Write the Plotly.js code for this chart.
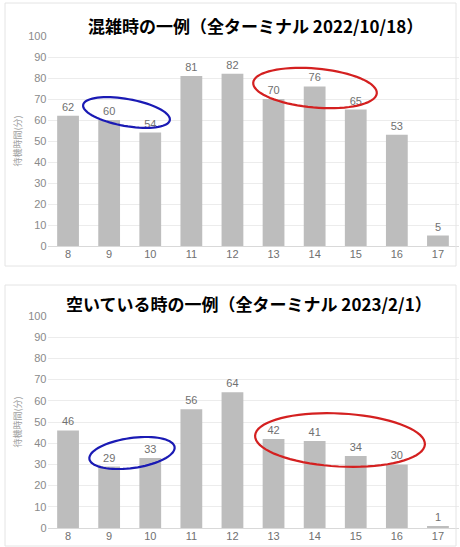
<!DOCTYPE html>
<html>
<head>
<meta charset="utf-8">
<script src="https://cdn.plot.ly/plotly-3.0.1.min.js"></script>
<style>html,body{margin:0;padding:0;background:#fff;}#chart{width:460px;height:547px;}</style>
</head>
<body>
<div id="chart"></div>
<script>
const hours = ["8","9","10","11","12","13","14","15","16","17"];
const busyValues = [62, 60, 54, 81, 82, 70, 76, 65, 53, 5];
const quietValues = [46, 29, 33, 56, 64, 42, 41, 34, 30, 1];
const busyTitle = "混雑時の一例（全ターミナル 2022/10/18）";
const quietTitle = "空いている時の一例（全ターミナル 2023/2/1）";
const yTitle = "待機時間(分)";
const yTicks = [0,10,20,30,40,50,60,70,80,90,100];

const W = 460, H = 547;
const fx = px => px / W;
const fy = py => 1 - py / H;

function ellipsePath(cx, cy, a, b, deg) {
  const t = deg * Math.PI / 180;
  let d = "";
  for (let i = 0; i <= 72; i++) {
    const u = i / 72 * 2 * Math.PI;
    const x = cx + a * Math.cos(u) * Math.cos(t) - b * Math.sin(u) * Math.sin(t);
    const y = cy + a * Math.cos(u) * Math.sin(t) + b * Math.sin(u) * Math.cos(t);
    d += (i === 0 ? "M" : "L") + fx(x).toFixed(4) + "," + fy(y).toFixed(4);
  }
  return d + "Z";
}

const font = "'Noto Sans CJK JP', 'Liberation Sans', Arial, sans-serif";
const barColor = "#bdbdbd";

function barTrace(vals, xa, ya) {
  return {
    type: "bar", x: hours, y: vals, xaxis: xa, yaxis: ya,
    marker: {color: barColor}, width: 0.53,
    text: vals.map(String), textposition: "outside", cliponaxis: false,
    textfont: {size: 11, color: "#707070", family: "'Liberation Sans', Arial, sans-serif"},
    hoverinfo: "x+y"
  };
}

function yaxisCfg(top, bottom) {
  return {
    domain: [fy(bottom), fy(top)], range: [0, 100], tickvals: yTicks, fixedrange: true,
    showgrid: true, gridcolor: "#ececec", gridwidth: 1, zeroline: true, zerolinecolor: "#d9d9d9",
    showline: false, ticks: "", automargin: false,
    tickfont: {size: 11, color: "#8a8a8a", family: "'Liberation Sans', Arial, sans-serif"},
    title: {text: yTitle, standoff: 4, font: {size: 9, color: "#a0a0a0", family: font}}
  };
}
function xaxisCfg(anchor) {
  return {
    domain: [fx(47.5), fx(458.5)], anchor: anchor, type: "category", range: [-0.5, 9.5],
    showgrid: false, zeroline: false, showline: false, ticks: "", automargin: false, fixedrange: true,
    tickfont: {size: 11, color: "#707070", family: "'Liberation Sans', Arial, sans-serif"}
  };
}

const layout = {
  width: W, height: H, margin: {l: 0, r: 0, t: 0, b: 0},
  paper_bgcolor: "#ffffff", plot_bgcolor: "#ffffff", showlegend: false,
  bargap: 0.47,
  xaxis: xaxisCfg("y"), yaxis: yaxisCfg(36, 246),
  xaxis2: xaxisCfg("y2"), yaxis2: yaxisCfg(316, 528),
  annotations: [
    {text: "<b>" + busyTitle + "</b>", xref: "paper", yref: "paper", x: fx(255), y: fy(25),
     xanchor: "center", yanchor: "middle", showarrow: false, font: {size: 17, color: "#000", family: font}},
    {text: "<b>" + quietTitle + "</b>", xref: "paper", yref: "paper", x: fx(249), y: fy(303),
     xanchor: "center", yanchor: "middle", showarrow: false, font: {size: 17, color: "#000", family: font}}
  ],
  shapes: [
    {type: "rect", xref: "paper", yref: "paper", x0: fx(5), x1: fx(456), y0: fy(3), y1: fy(266),
     line: {color: "#e4e4e4", width: 1}},
    {type: "rect", xref: "paper", yref: "paper", x0: fx(5), x1: fx(456), y0: fy(285), y1: fy(546),
     line: {color: "#e4e4e4", width: 1}},
    {type: "path", xref: "paper", yref: "paper", path: ellipsePath(126.5, 112.5, 44, 13.5, 10), line: {color: "#1a1ab4", width: 2.2}},
    {type: "path", xref: "paper", yref: "paper", path: ellipsePath(315, 88, 62, 19.5, 5), line: {color: "#d42020", width: 2.2}},
    {type: "path", xref: "paper", yref: "paper", path: ellipsePath(132, 453, 43, 15, -8), line: {color: "#1a1ab4", width: 2.2}},
    {type: "path", xref: "paper", yref: "paper", path: ellipsePath(340, 440, 85, 26.5, 3), line: {color: "#d42020", width: 2.2}}
  ]
};

Plotly.newPlot("chart", [barTrace(busyValues, "x", "y"), barTrace(quietValues, "x2", "y2")], layout,
  {displayModeBar: false, staticPlot: true});
</script>
</body>
</html>
